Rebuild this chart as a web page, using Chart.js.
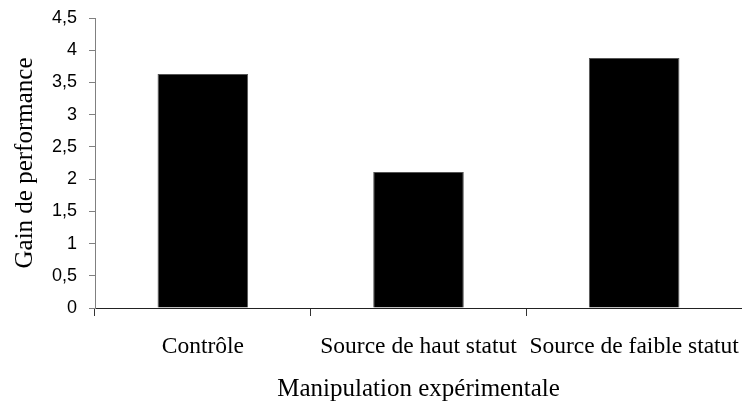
<!DOCTYPE html>
<html>
<head>
<meta charset="utf-8">
<script src="https://cdn.jsdelivr.net/npm/chart.js@4"></script>
<style>
  html, body { margin: 0; padding: 0; background: #fff; }
  #wrap { width: 742px; height: 404px; }
</style>
</head>
<body>
<div id="wrap"><canvas id="gainChart"></canvas></div>
<script>
const categories = ['Contrôle', 'Source de haut statut', 'Source de faible statut'];
const gains = [3.63, 2.11, 3.88];
const yTicks = [0, 0.5, 1, 1.5, 2, 2.5, 3, 3.5, 4, 4.5];

document.addEventListener('DOMContentLoaded', () => {
  createGainChart();
});

function createGainChart() {
  const ctx = document.getElementById('gainChart').getContext('2d');

  new Chart(ctx, {
    type: 'bar',
    data: {
      labels: categories,
      datasets: [{
        data: gains,
        backgroundColor: '#000000',
        borderColor: '#555555',
        borderWidth: 1,
        barPercentage: 0.42,
        categoryPercentage: 1
      }]
    },
    options: {
      responsive: true,
      maintainAspectRatio: false,
      animation: false,
      layout: { padding: { top: 18, right: 0, left: 0, bottom: 0 } },
      plugins: {
        legend: { display: false },
        tooltip: { enabled: false }
      },
      scales: {
        x: {
          offset: true,
          grid: { offset: true, drawOnChartArea: false, tickLength: 8, color: '#333' },
          border: { color: '#222' },
          ticks: {
            color: '#000',
            padding: 17,
            maxRotation: 0,
            autoSkip: false,
            font: { family: 'Liberation Serif', size: 23.5 }
          },
          title: {
            display: true,
            text: 'Manipulation expérimentale',
            color: '#000',
            font: { family: 'Liberation Serif', size: 25 },
            padding: { top: 0, bottom: 0 }
          },
          afterFit: scale => {
            scale.height = 96;
            // labels may spill to the edge, like the original
            scale.paddingLeft = 0;
            scale.paddingRight = 0;
          }
        },
        y: {
          min: 0,
          max: 4.5,
          afterBuildTicks: scale => {
            scale.ticks = yTicks.map(v => ({ value: v }));
          },
          grid: { drawOnChartArea: false, tickLength: 6, color: '#808080' },
          border: { color: '#808080' },
          ticks: {
            color: '#000',
            padding: 12,
            font: { family: 'Liberation Sans', size: 18 },
            callback: value => String(value).replace('.', ',')
          },
          title: {
            display: true,
            text: 'Gain de performance',
            color: '#000',
            font: { family: 'Liberation Serif', size: 25 },
            padding: { top: 10, bottom: 0 }
          },
          afterFit: scale => {
            scale.width = 95;
            scale.paddingTop = 0;
            scale.paddingBottom = 0;
          }
        }
      }
    }
  });
}
</script>
</body>
</html>
